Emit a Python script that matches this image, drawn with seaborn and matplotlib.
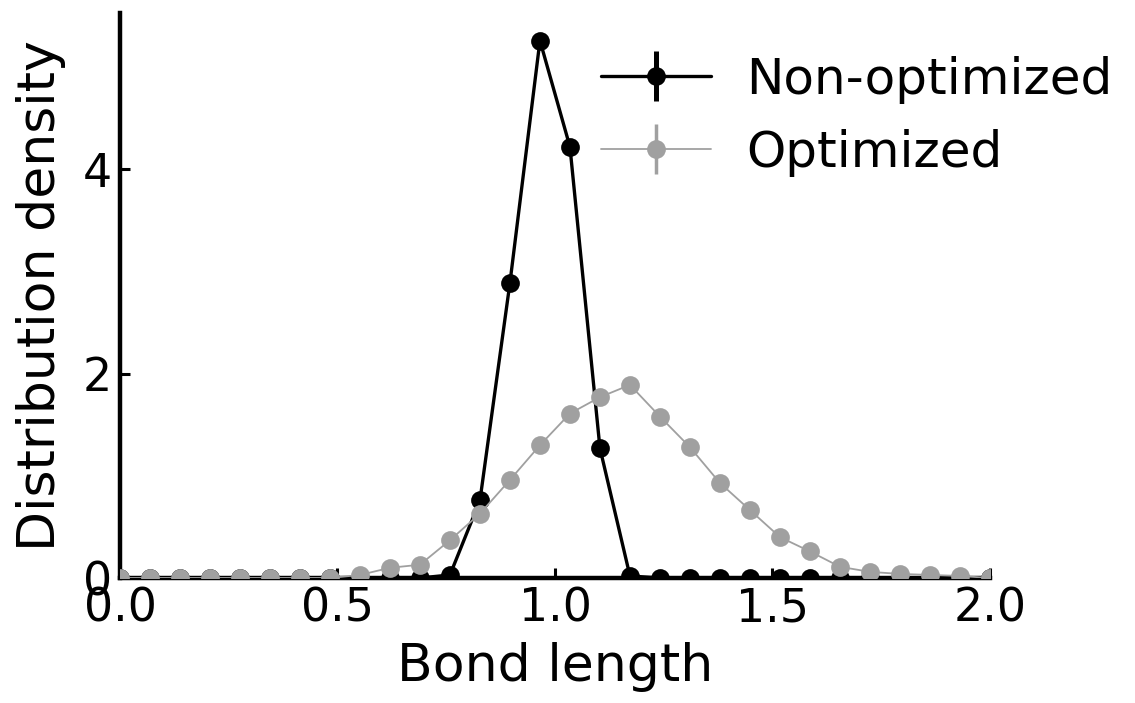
import numpy as np
import pandas as pd
import seaborn as sns
import matplotlib
matplotlib.use("Agg")
import matplotlib.pyplot as plt

# ---- data ----
bond_length = np.linspace(0.0, 2.0, 30)
non_optimized = [0, 0, 0, 0, 0, 0, 0, 0, 0, 0, 0, 0.03, 0.76, 2.89, 5.26,
                 4.22, 1.27, 0.02, 0, 0, 0, 0, 0, 0, 0, 0, 0, 0, 0, 0]
optimized = [0, 0, 0, 0, 0, 0, 0, 0, 0.03, 0.10, 0.13, 0.37, 0.63, 0.96, 1.30,
             1.61, 1.77, 1.89, 1.58, 1.28, 0.93, 0.665, 0.40, 0.26, 0.11, 0.06,
             0.04, 0.03, 0.02, 0]
series_names = ["Non-optimized", "Optimized"]
x_ticks = [0.0, 0.5, 1.0, 1.5, 2.0]
y_ticks = [0, 2, 4]

df = pd.DataFrame({
    "Bond length": np.concatenate([bond_length, bond_length]),
    "Distribution density": np.concatenate([non_optimized, optimized]),
    "series": [series_names[0]] * 30 + [series_names[1]] * 30,
})

sns.set_style("ticks")
plt.rcParams["font.family"] = ["DejaVu Sans"]
plt.rcParams["text.color"] = "black"
plt.rcParams["axes.labelcolor"] = "black"

fig = plt.figure(figsize=(11.35, 7.03), dpi=100)
ax = fig.add_axes([0.1057, 0.1778, 0.7665, 0.8037])

colors = {"Non-optimized": "#000000", "Optimized": "#a0a0a0"}
lws = {"Non-optimized": 2.4, "Optimized": 1.3}

for name in series_names:
    sub = df[df["series"] == name]
    sns.lineplot(data=sub, x="Bond length", y="Distribution density", ax=ax,
                 color=colors[name], lw=lws[name], marker="o", markersize=13.5,
                 markeredgewidth=0, legend=False, zorder=3, clip_on=True)

# legend handles styled as error-bar entries
handles = []
for name in series_names:
    h = ax.errorbar([], [], yerr=[], color=colors[name], lw=lws[name],
                    marker="o", markersize=13.5, markeredgewidth=0,
                    elinewidth=lws[name] + 1.2, label=name)
    handles.append(h)

ax.set_xlim(0, 2.0)
ax.set_ylim(0, 5.53)
ax.set_xticks(x_ticks)
ax.set_yticks(y_ticks)
ax.set_xticklabels([f"{t:.1f}" for t in x_ticks])
ax.set_yticklabels([str(t) for t in y_ticks])
ax.tick_params(direction="in", length=7, width=2.2, labelsize=33, pad=6, colors="black")
ax.set_xlabel("Bond length", fontsize=37.5, labelpad=8)
ax.set_ylabel("Distribution density", fontsize=37.5, labelpad=12)
for side in ["top", "right"]:
    ax.spines[side].set_visible(False)
for side in ["left", "bottom"]:
    ax.spines[side].set_linewidth(3.2)
    ax.spines[side].set_color("black")

fig.legend(handles=handles, labels=series_names, loc="upper left",
           bbox_to_anchor=(0.49, 0.985), frameon=False, fontsize=36,
           handlelength=2.2, handletextpad=0.7, labelspacing=0.5)

fig.savefig("out.png", dpi=100)
